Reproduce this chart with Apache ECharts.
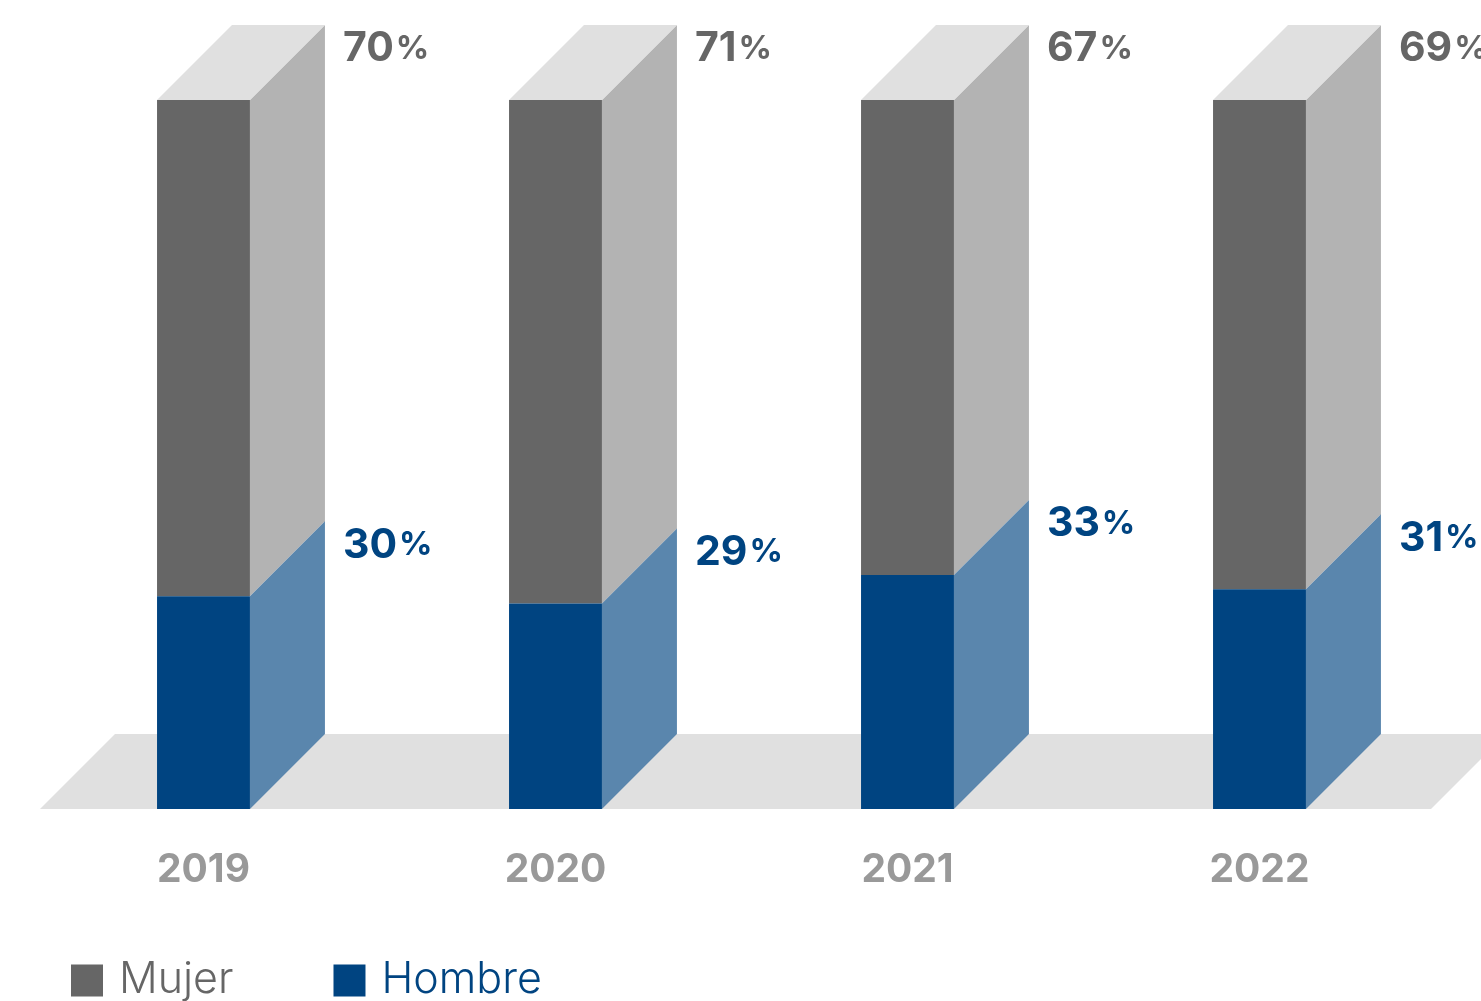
<!DOCTYPE html>
<html>
<head>
<meta charset="utf-8">
<script src="https://cdn.jsdelivr.net/npm/echarts@6/dist/echarts.min.js"></script>
<style>html,body{margin:0;padding:0;background:#fff;}#c{width:1481px;height:1001px;}</style>
</head>
<body>
<div id="c"></div>
<script>
const categories = ['2019', '2020', '2021', '2022'];
const hombre = [30, 29, 33, 31];
const mujer = [70, 71, 67, 69];

const C = {
  mujerFront: '#666666', mujerSide: '#b3b3b3', top: '#e0e0e0',
  hombreFront: '#004481', hombreSide: '#5a86ad', floor: '#e0e0e0',
  grayText: '#666666', blueText: '#004481', yearText: '#999999'
};
const FONT = 'Inter';

const chart = echarts.init(document.getElementById('c'), null, {renderer: 'canvas'});

function geom(api) {
  const x = api.value(0);
  const pb = api.coord([x, api.value(1)]);
  const pt = api.coord([x, api.value(2)]);
  const bw = api.size([1, 0])[0];
  const w = bw * 0.264, d = bw * 0.213;
  const left = pb[0] - w / 2;
  return {pb, pt, w, d, left};
}

function makeRender(front, side, withTop, labelColor) {
  return function (params, api) {
    const g = geom(api);
    const {pb, pt, w, d, left} = g;
    const r = left + w;
    const children = [
      {type: 'rect', shape: {x: left, y: pt[1], width: w, height: pb[1] - pt[1]}, style: {fill: front}},
      {type: 'polygon', shape: {points: [[r, pb[1]], [r + d, pb[1] - d], [r + d, pt[1] - d], [r, pt[1]]]}, style: {fill: side}}
    ];
    if (withTop) {
      children.push({type: 'polygon', shape: {points: [[left, pt[1]], [left + d, pt[1] - d], [r + d, pt[1] - d], [r, pt[1]]]}, style: {fill: C.top}});
    }
    children.push({
      type: 'text',
      style: {
        x: r + d + 18, y: pt[1] - d + 24,
        text: '{n|' + api.value(3) + '}{p|%}',
        verticalAlign: 'middle', align: 'left',
        rich: {
          n: {fontFamily: FONT, fontSize: 41, fontWeight: 'bold', fill: labelColor},
          p: {fontFamily: FONT, fontSize: 33, fontWeight: 'bold', fill: labelColor, padding: [0, 0, 0, 2]}
        }
      }
    });
    return {type: 'group', children};
  };
}

const option = {
  animation: false,
  grid: {left: 27.5, right: 45.5, top: 100, bottom: 192},
  xAxis: {
    type: 'category', data: categories,
    axisLine: {show: false}, axisTick: {show: false},
    axisLabel: {margin: 42, color: C.yearText, fontSize: 39, fontFamily: FONT, fontWeight: 'bold'}
  },
  yAxis: {type: 'value', min: 0, max: 100, show: false},
  legend: {
    left: 71, top: 959, padding: 0, itemWidth: 32, itemHeight: 32, icon: 'rect', itemGap: 100,
    textStyle: {fontSize: 43, fontFamily: FONT, fontWeight: 300, padding: [0, 0, 0, 11]},
    selectedMode: false
  },
  series: [
    {
      type: 'custom', name: 'floor', z: 1, silent: true,
      data: [[0]],
      renderItem: function (params, api) {
        const cs = params.coordSys;
        const y0 = api.coord([0, 0])[1];
        const d = api.size([1, 0])[0] * 0.213;
        const xl = cs.x + 12.5, xr = cs.x + cs.width - 4.5;
        return {type: 'polygon', shape: {points: [[xl, y0], [xl + d, y0 - d], [xr + d, y0 - d], [xr, y0]]}, style: {fill: C.floor}};
      }
    },
    {
      type: 'custom', name: 'Hombre', z: 3,
      itemStyle: {color: C.hombreFront},
      data: categories.map((c, i) => [i, 0, hombre[i], hombre[i]]),
      renderItem: makeRender(C.hombreFront, C.hombreSide, false, C.blueText)
    },
    {
      type: 'custom', name: 'Mujer', z: 2,
      itemStyle: {color: C.mujerFront},
      data: categories.map((c, i) => [i, hombre[i], hombre[i] + mujer[i], mujer[i]]),
      renderItem: makeRender(C.mujerFront, C.mujerSide, true, C.grayText)
    }
  ]
};
option.legend.data = [
  {name: 'Mujer', textStyle: {color: C.grayText}},
  {name: 'Hombre', textStyle: {color: C.blueText}}
];
chart.setOption(option);
</script>
</body>
</html>
